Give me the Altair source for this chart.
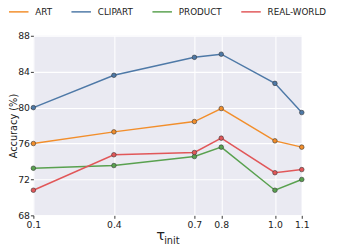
import altair as alt
import pandas as pd

taus = [0.1, 0.4, 0.7, 0.8, 1.0, 1.1]
art = [76.0, 77.3, 78.45, 79.9, 76.3, 75.6]
clipart = [80.0, 83.6, 85.6, 85.95, 82.7, 79.45]
product = [73.25, 73.55, 74.55, 75.6, 70.8, 72.0]
realworld = [70.8, 74.75, 75.0, 76.6, 72.75, 73.1]

series = ["ART", "CLIPART", "PRODUCT", "REAL-WORLD"]
colors = ["#f28e2b", "#4e79a7", "#59a14f", "#e15759"]
y_ticks = [68, 72, 76, 80, 84, 88]

rows = []
for name, vals in zip(series, [art, clipart, product, realworld]):
    for t, v in zip(taus, vals):
        rows.append({"tau": t, "acc": v, "domain": name})
df = pd.DataFrame(rows)

FONT = "DejaVu Sans"
W, H = 275, 184

xaxis = alt.Axis(values=taus, format=".1f", title=None, labelFontSize=9.5,
                 labelFont=FONT, labelColor="#222", tickColor="#333",
                 tickSize=3, labelPadding=1, domain=False, gridColor="white",
                 gridWidth=1.1, labelFlush=False, labelOverlap=False)
yaxis = alt.Axis(values=y_ticks, title="Accuracy (%)", titleFontSize=10,
                 titleFont=FONT, titleFontWeight="normal", titleColor="#222",
                 titleX=-17, titleY=H / 2, titleAngle=-90, titleAlign="center",
                 titleBaseline="alphabetic",
                 labelFontSize=9.5, labelFont=FONT, labelColor="#222",
                 tickColor="#333", tickSize=3, labelPadding=1, domain=False,
                 gridColor="white", gridWidth=1.1, labelOverlap=False,
                 labelFlush=False)
xscale = alt.Scale(domain=[0.1, 1.1], nice=False, zero=False)
yscale = alt.Scale(domain=[68, 88], nice=False, zero=False)

cenc = alt.Color("domain:N", scale=alt.Scale(domain=series, range=colors),
                 legend=alt.Legend(title=None, orient="none", direction="horizontal",
                                   legendX=-20, legendY=-29.5,
                                   symbolType="M-2.5,0H2.5",
                                   symbolSize=64, symbolStrokeWidth=1.5,
                                   symbolFillColor="transparent",
                                   labelFontSize=9, labelFont=FONT, labelColor="#222",
                                   labelOffset=12, columnPadding=16, labelLimit=200))

base = alt.Chart(df)
lines = base.mark_line(strokeWidth=1.5).encode(
    x=alt.X("tau:Q", scale=xscale, axis=xaxis),
    y=alt.Y("acc:Q", scale=yscale, axis=yaxis),
    color=cenc)
points = base.mark_point(filled=True, size=22, stroke="#333", strokeWidth=0.6,
                         opacity=1).encode(
    x=alt.X("tau:Q", scale=xscale, axis=xaxis),
    y=alt.Y("acc:Q", scale=yscale, axis=yaxis),
    fill=alt.Fill("domain:N", scale=alt.Scale(domain=series, range=colors), legend=None))

tau_txt = alt.Chart(pd.DataFrame({"t": ["τ"]})).mark_text(
    font=FONT, fontSize=15, align="left", baseline="alphabetic", color="#222"
).encode(text="t:N", x=alt.value(126), y=alt.value(209.5))
init_txt = alt.Chart(pd.DataFrame({"t": ["init"]})).mark_text(
    font=FONT, fontSize=10, align="left", baseline="alphabetic", color="#222"
).encode(text="t:N", x=alt.value(134), y=alt.value(213))

chart = alt.layer(lines, points, tau_txt, init_txt).properties(
    width=W, height=H,
    autosize=alt.AutoSizeParams(type="none"),
    padding={"left": 26, "top": 25.5, "right": 32, "bottom": 32},
    background="white",
).configure_view(fill="#eaeaf2", stroke=None)

chart.save("out.html", embed_options={"renderer": "svg", "actions": False})
